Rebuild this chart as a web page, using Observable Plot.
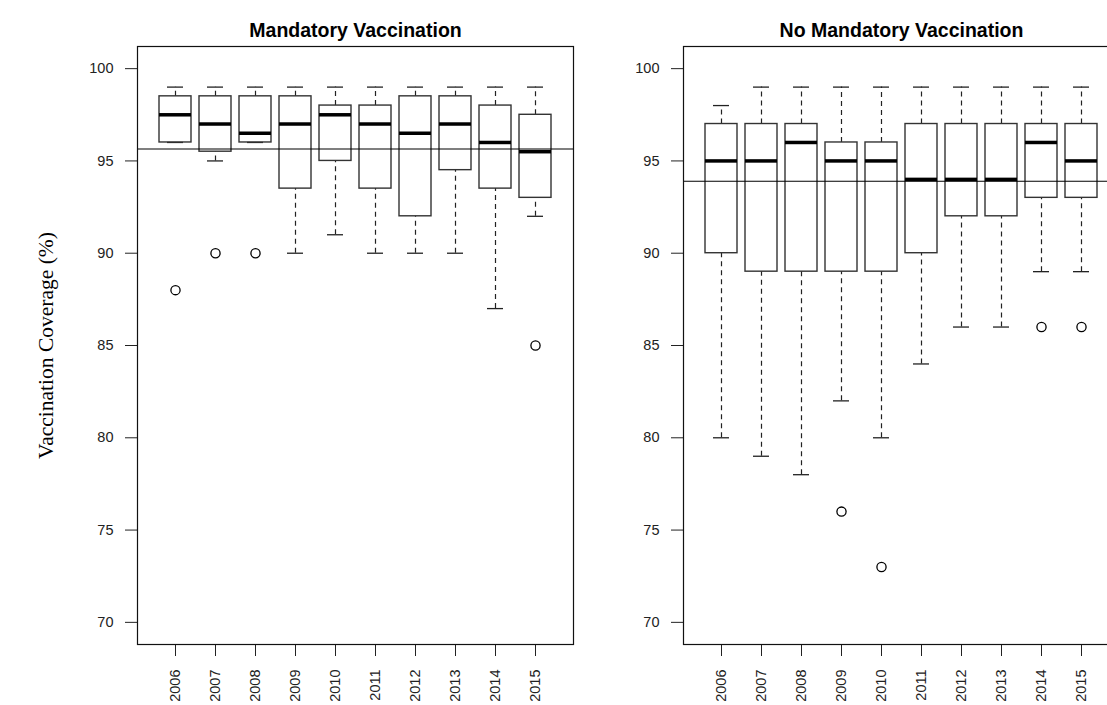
<!DOCTYPE html>
<html><head><meta charset="utf-8">
<script src="https://cdn.jsdelivr.net/npm/d3@7"></script>
<script src="https://cdn.jsdelivr.net/npm/@observablehq/plot@0.6"></script>
<style>
html,body{margin:0;padding:0;background:#fff;overflow:hidden;width:1107px;height:705px;}
#wrap{position:relative;width:1107px;height:705px;overflow:hidden;background:#fff;}
#p1,#p2{position:absolute;top:0;}
#p1{left:0;width:590px;} #p2{left:590px;width:549px;}
#wrap svg{max-width:none !important;display:block;}
</style></head>
<body><div id="wrap"><div id="p1"></div><div id="p2"></div></div>
<script>
// ---- data ----
const years = [2006, 2007, 2008, 2009, 2010, 2011, 2012, 2013, 2014, 2015];
const yTicks = [70, 75, 80, 85, 90, 95, 100];

const mandTitle = "Mandatory Vaccination";
const mandMin = [96, 95, 96, 90, 91, 90, 90, 90, 87, 92];
const mandQ1  = [96, 95.5, 96, 93.5, 95, 93.5, 92, 94.5, 93.5, 93];
const mandMed = [97.5, 97, 96.5, 97, 97.5, 97, 96.5, 97, 96, 95.5];
const mandQ3  = [98.5, 98.5, 98.5, 98.5, 98, 98, 98.5, 98.5, 98, 97.5];
const mandMax = [99, 99, 99, 99, 99, 99, 99, 99, 99, 99];
const mandOutYears  = [2006, 2007, 2008, 2015];
const mandOutValues = [88, 90, 90, 85];
const mandMean = 95.65;

const noMandTitle = "No Mandatory Vaccination";
const noMandMin = [80, 79, 78, 82, 80, 84, 86, 86, 89, 89];
const noMandQ1  = [90, 89, 89, 89, 89, 90, 92, 92, 93, 93];
const noMandMed = [95, 95, 96, 95, 95, 94, 94, 94, 96, 95];
const noMandQ3  = [97, 97, 97, 96, 96, 97, 97, 97, 97, 97];
const noMandMax = [98, 99, 99, 99, 99, 99, 99, 99, 99, 99];
const noMandOutYears  = [2009, 2010, 2014, 2015];
const noMandOutValues = [76, 73, 86, 86];
const noMandMean = 93.9;

const yLabel = "Vaccination Coverage (%)";

// ---- drawing ----
function panel({title, mn, q1, md, q3, mx, outX, outY, mean, marginLeft, marginRight, width, withYLabel}) {
  const rows = years.map((y, i) => ({year: y, min: mn[i], q1: q1[i], med: md[i], q3: q3[i], max: mx[i]}));
  const outs = outX.map((y, i) => ({year: y, value: outY[i]}));
  const ink = "#222";
  const marks = [
    Plot.axisX({tickRotate: -90, tickSize: 12, tickPadding: 13, fontSize: 14.5, tickFormat: d => String(d), label: null, stroke: "#222", fill: "#222"}),
    Plot.axisY({ticks: yTicks, tickSize: 12, tickPadding: 12, fontSize: 14.5, label: null, stroke: "#222", fill: "#222"}),
    Plot.ruleX(rows, {x: "year", y1: "q3", y2: "max", stroke: ink, strokeWidth: 1.2, strokeDasharray: "5,4"}),
    Plot.ruleX(rows, {x: "year", y1: "min", y2: "q1", stroke: ink, strokeWidth: 1.2, strokeDasharray: "5,4"}),
    Plot.tickY(rows, {x: "year", y: "max", stroke: ink, strokeWidth: 1.3, insetLeft: 8, insetRight: 8}),
    Plot.tickY(rows, {x: "year", y: "min", stroke: ink, strokeWidth: 1.3, insetLeft: 8, insetRight: 8}),
    Plot.barY(rows, {x: "year", y1: "q1", y2: "q3", fill: "none", stroke: "#333", strokeWidth: 1.4}),
    Plot.tickY(rows, {x: "year", y: "med", stroke: "#000", strokeWidth: 3.5}),
    Plot.dot(outs, {x: "year", y: "value", r: 4.6, stroke: "#000", fill: "none", strokeWidth: 1.3}),
    Plot.ruleY([mean], {stroke: "#000", strokeWidth: 1.1}),
    Plot.frame({stroke: "#111", strokeWidth: 1.2}),
    Plot.text([title], {text: d => d, frameAnchor: "top", dy: -23.5, fontWeight: "bold", fontSize: 19.5, fill: "#000"})
  ];
  if (withYLabel) {
    marks.push(Plot.text([yLabel], {text: d => d, frameAnchor: "left", textAnchor: "middle", dx: -91, rotate: -90,
      fontFamily: "'Liberation Serif', 'Times New Roman', serif", fontSize: 21.5, fill: "#000"}));
  }
  return Plot.plot({
    width, height: 705,
    marginTop: 46, marginBottom: 61, marginLeft, marginRight,
    style: {fontFamily: "'Liberation Sans', Arial, sans-serif", fontSize: "14px", color: "#222", background: "#fff", overflow: "visible"},
    x: {type: "band", domain: years, paddingInner: 0.2, paddingOuter: 0.5, label: null},
    y: {domain: [68.8, 101.2], label: null},
    marks
  });
}

document.getElementById("p1").appendChild(panel({
  title: mandTitle, mn: mandMin, q1: mandQ1, md: mandMed, q3: mandQ3, mx: mandMax,
  outX: mandOutYears, outY: mandOutValues, mean: mandMean,
  marginLeft: 137, marginRight: 17, width: 590, withYLabel: true
}));
document.getElementById("p2").appendChild(panel({
  title: noMandTitle, mn: noMandMin, q1: noMandQ1, md: noMandMed, q3: noMandQ3, mx: noMandMax,
  outX: noMandOutYears, outY: noMandOutValues, mean: noMandMean,
  marginLeft: 93, marginRight: 20, width: 549, withYLabel: false
}));
</script>
</body></html>
